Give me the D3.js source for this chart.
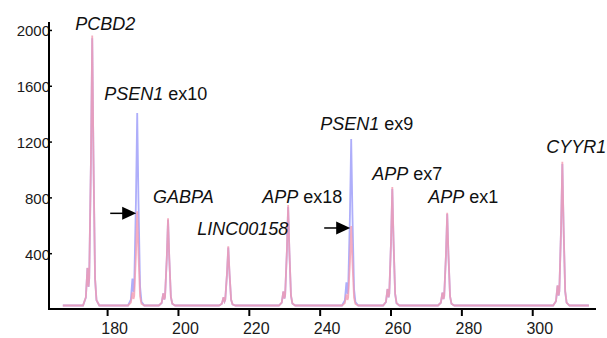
<!DOCTYPE html>
<html>
<head>
<meta charset="utf-8">
<script src="https://cdn.jsdelivr.net/npm/d3@7"></script>
<style>
  body { margin: 0; background: #fff; }
  svg { display: block; }
</style>
</head>
<body>
<div id="container"></div>
<script>
// fragment sizes (bp) of the probe peaks
let peakSize = [175.8, 188.5, 197.2, 214.2, 231.1, 248.9, 260.5, 276.0, 308.5];
// peak heights
let redHeight = [1960, 700, 650, 450, 745, 595, 875, 690, 1055];
let blueHeight = [1940, 1405, 640, 440, 730, 1218, 860, 680, 1040];
let geneName = ["PCBD2", "PSEN1", "GABPA", "LINC00158", "APP", "PSEN1", "APP", "APP", "CYYR1"];
let exonName = ["", "ex10", "", "", "ex18", "ex9", "ex7", "ex1", ""];
let arrowPeaks = [1, 5];
let yTicks = [400, 800, 1200, 1600, 2000];
let xTicks = [180, 200, 220, 240, 260, 280, 300];
let baseLevel = 25;

// label placement (px offsets from peak x, baseline y in px)
let labelDx = [-17, -33, -15, -31, -26, -31, -20, -19, -16];
let labelY = [30, 100, 203, 235, 203, 130, 180, 203, 153];

// shape of one electropherogram peak: [bp offset, fraction of height]
let peakShape = [[-2.6, 0], [-1.8, 0.03], [-1.35, 0.14], [-1.05, 0.07], [-0.85, 0.1],
  [-0.35, 0.55], [0, 1], [0.35, 0.55], [0.8, 0.1], [1.2, 0.02], [2.0, 0]];

let w = 607;
let h = 338;

let viz = d3.select("#container")
  .append("svg")
  .attr("width", w)
  .attr("height", h);

let x = d3.scaleLinear().domain([163.6, 318]).range([49, 596]);
let y = d3.scaleLinear().domain([0, 2057]).range([309, 22]);

function tracePoints(heights) {
  let pts = [[167.5, baseLevel]];
  peakSize.forEach((s, i) => {
    peakShape.forEach(p => {
      pts.push([s + p[0], baseLevel + p[1] * (heights[i] - baseLevel)]);
    });
  });
  pts.push([316, baseLevel]);
  return pts;
}

let line = d3.line()
  .x(d => x(d[0]))
  .y(d => y(d[1]));

viz.append("path")
  .attr("d", line(tracePoints(blueHeight)))
  .attr("fill", "none")
  .attr("stroke", "#aeaefa")
  .attr("stroke-width", 1.8);

viz.append("path")
  .attr("d", line(tracePoints(redHeight)))
  .attr("fill", "none")
  .attr("stroke", "#f39ab0")
  .attr("stroke-opacity", 0.8)
  .attr("stroke-width", 1.8);

// axes
let yAxis = viz.append("g")
  .attr("transform", "translate(49,0)")
  .call(d3.axisLeft(y).tickValues(yTicks).tickSize(-3).tickPadding(-1).tickFormat(d3.format("d")));
yAxis.select(".domain").remove();
yAxis.selectAll("text")
  .attr("font-family", "Liberation Sans, Arial, sans-serif")
  .attr("font-size", 15)
  .attr("fill", "#1a1a1a")
  .attr("dy", "0.4em");
yAxis.selectAll("line").attr("stroke", "#000").attr("stroke-width", 1.5);

let xAxis = viz.append("g")
  .attr("transform", "translate(0,309)")
  .call(d3.axisBottom(x).tickValues(xTicks).tickSize(7).tickPadding(7));
xAxis.select(".domain").remove();
xAxis.selectAll("text")
  .attr("font-family", "Liberation Sans, Arial, sans-serif")
  .attr("font-size", 16)
  .attr("fill", "#1a1a1a")
  .attr("dx", 7);
xAxis.selectAll("line").attr("stroke", "#000").attr("stroke-width", 2);

viz.append("line")
  .attr("x1", 49).attr("x2", 49)
  .attr("y1", 22).attr("y2", 310)
  .attr("stroke", "#000").attr("stroke-width", 2);
viz.append("line")
  .attr("x1", 48).attr("x2", 596)
  .attr("y1", 309).attr("y2", 309)
  .attr("stroke", "#000").attr("stroke-width", 2);

// peak labels
let labels = viz.selectAll(".lab").data(peakSize).enter()
  .append("text")
  .attr("class", "lab")
  .attr("x", (d, i) => x(d) + labelDx[i])
  .attr("y", (d, i) => labelY[i])
  .attr("font-family", "Liberation Sans, Arial, sans-serif")
  .attr("font-size", 18)
  .attr("fill", "#111");
labels.append("tspan")
  .attr("font-style", "italic")
  .text((d, i) => geneName[i]);
labels.append("tspan")
  .text((d, i) => exonName[i] ? " " + exonName[i] : "");

// arrows pointing at the changed peaks
let arrows = viz.selectAll(".arrow").data(arrowPeaks).enter()
  .append("g")
  .attr("class", "arrow")
  .attr("transform", i => "translate(" + (x(peakSize[i]) - 1) + "," + (y(redHeight[i]) + 2) + ")");
arrows.append("line")
  .attr("x1", -26).attr("x2", -12)
  .attr("y1", 0).attr("y2", 0)
  .attr("stroke", "#000").attr("stroke-width", 1.5);
arrows.append("path")
  .attr("d", "M0,0 L-14,-6.5 L-14,6.5 Z")
  .attr("fill", "#000");
</script>
</body>
</html>
